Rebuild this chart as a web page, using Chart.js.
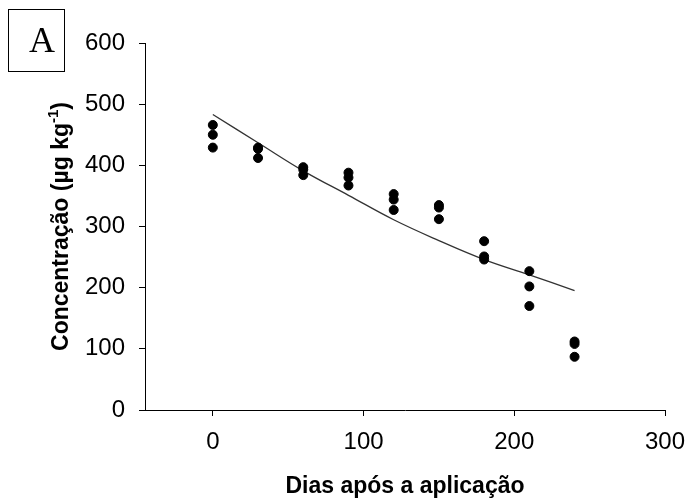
<!DOCTYPE html>
<html>
<head>
<meta charset="utf-8">
<script src="https://cdn.jsdelivr.net/npm/chart.js@4"></script>
<style>
  html, body { margin: 0; padding: 0; background: #fff; }
  #wrap { width: 687px; height: 500px; }
</style>
</head>
<body>
<div id="wrap"><canvas id="grafico" width="687" height="500"></canvas></div>
<script>
// Dias de amostragem (3 repetições por dia)
const dias = [0, 0, 0, 30, 30, 30, 60, 60, 60, 90, 90, 90, 120, 120, 120,
              150, 150, 150, 180, 180, 180, 210, 210, 210, 240, 240, 240];
// Concentração observada (µg kg-1)
const concObs = [466, 450, 429, 429, 427, 412, 397, 393, 384, 388, 380, 367, 353, 344, 327,
                 335, 331, 312, 276, 251, 246, 227, 202, 170, 112, 108, 87];
// Curva ajustada
const diasCurva = [0, 30, 60, 90, 120, 150, 180, 210, 240];
const concCurva = [483, 437, 391, 351, 311, 277, 246, 221, 195];
// Marcas dos eixos
const ticksX = [0, 100, 200, 300];
const ticksY = [0, 100, 200, 300, 400, 500, 600];

const fonte = 'Arial, "Liberation Sans", sans-serif';

// Títulos dos eixos e o rótulo "A"
const textosExtras = {
    id: 'textosExtras',
    afterDraw(chart) {
        const c = chart.ctx;
        const area = chart.chartArea;
        c.save();
        c.fillStyle = '#000';
        c.strokeStyle = '#000';

        // caixa "A"
        c.lineWidth = 1;
        c.strokeRect(8.5, 9.5, 56, 62);
        c.font = '36px "Liberation Serif", "Times New Roman", serif';
        c.textAlign = 'center';
        c.textBaseline = 'middle';
        c.fillText('A', 42, 43);

        // título do eixo X
        c.font = 'bold 23px ' + fonte;
        c.fillText('Dias após a aplicação', (area.left + area.right) / 2, 487);

        // título do eixo Y com expoente
        const t1 = 'Concentração (µg kg', t2 = '-1', t3 = ')';
        const fGrande = 'bold 23px ' + fonte, fPeq = 'bold 15px ' + fonte;
        c.font = fGrande;
        const w1 = c.measureText(t1).width, w3 = c.measureText(t3).width;
        c.font = fPeq;
        const w2 = c.measureText(t2).width;
        const total = w1 + w2 + w3;
        c.translate(62, (area.top + area.bottom) / 2);
        c.rotate(-Math.PI / 2);
        c.textAlign = 'left';
        c.textBaseline = 'middle';
        let x = -total / 2;
        c.font = fGrande;
        c.fillText(t1, x, 0);
        x += w1;
        c.font = fPeq;
        c.fillText(t2, x, -8);
        x += w2;
        c.font = fGrande;
        c.fillText(t3, x, 0);
        c.restore();
    }
};

const ctx = document.getElementById('grafico').getContext('2d');
const grafico = new Chart(ctx, {
    type: 'scatter',
    data: {
        datasets: [{
            label: 'Observado',
            data: dias.map((d, i) => ({ x: d, y: concObs[i] })),
            backgroundColor: '#000',
            borderColor: '#000',
            pointRadius: 4.5,
            pointHoverRadius: 4.5,
            showLine: false,
            order: 1
        },
        {
            label: 'Ajustado',
            data: diasCurva.map((d, i) => ({ x: d, y: concCurva[i] })),
            borderColor: '#333',
            borderWidth: 1.3,
            pointRadius: 0,
            showLine: true,
            tension: 0.4,
            order: 2
        }]
    },
    options: {
        responsive: false,
        animation: false,
        devicePixelRatio: 1,
        layout: { padding: { left: 0, top: 43, right: 22, bottom: 0 } },
        plugins: {
            legend: { display: false },
            tooltip: { enabled: false }
        },
        scales: {
            x: {
                type: 'linear',
                min: -45,
                max: 300,
                afterBuildTicks: s => { s.ticks = ticksX.map(v => ({ value: v })); },
                afterFit: s => { s.height = 90; s.paddingLeft = 0; s.paddingRight = 0; },
                grid: { display: true, drawOnChartArea: false, drawTicks: true, tickLength: 6, color: '#000' },
                border: { display: true, color: '#000', width: 1 },
                ticks: { color: '#000', padding: 12, maxRotation: 0, font: { family: fonte, size: 24 } }
            },
            y: {
                type: 'linear',
                min: 0,
                max: 600,
                afterBuildTicks: s => { s.ticks = ticksY.map(v => ({ value: v })); },
                afterFit: s => { s.width = 145; s.paddingTop = 0; s.paddingBottom = 0; },
                grid: { display: true, drawOnChartArea: false, drawTicks: true, tickLength: 6, color: '#000' },
                border: { display: true, color: '#000', width: 1 },
                ticks: { color: '#000', padding: 14, font: { family: fonte, size: 24 } }
            }
        }
    },
    plugins: [textosExtras]
});
</script>
</body>
</html>
